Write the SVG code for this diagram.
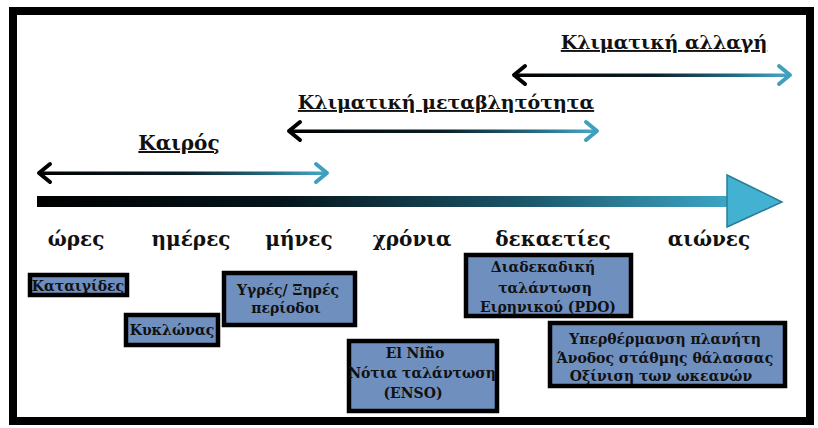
<svg xmlns="http://www.w3.org/2000/svg" width="818" height="428" viewBox="0 0 818 428">
<style>
.t{font-family:"DejaVu Serif","Liberation Serif",serif;font-weight:bold;fill:#111;}
.title{font-size:19px;text-decoration:underline;text-anchor:middle;}
.lab{font-size:20px;text-anchor:middle;}
.bx{fill:#6f8fbf;stroke:#000;stroke-width:4.5;}
.bt{font-size:14px;text-anchor:middle;}
.hl{fill:none;stroke:#000;stroke-width:4;stroke-linecap:round;stroke-linejoin:round;}
.hr{fill:none;stroke:#3f9fbe;stroke-width:4;stroke-linecap:round;stroke-linejoin:round;}
</style>
<defs>
<linearGradient id="gl" x1="0" y1="0" x2="1" y2="0">
<stop offset="0" stop-color="#000"/>
<stop offset="0.5" stop-color="#0a1f27"/>
<stop offset="0.8" stop-color="#236a80"/>
<stop offset="1" stop-color="#48a9c8"/>
</linearGradient>
<linearGradient id="gb" x1="0" y1="0" x2="1" y2="0">
<stop offset="0" stop-color="#000"/>
<stop offset="0.35" stop-color="#05141a"/>
<stop offset="0.7" stop-color="#1b5568"/>
<stop offset="1" stop-color="#3da6c6"/>
</linearGradient>
</defs>
<rect width="818" height="428" fill="#fff"/>
<rect id="frame" x="13" y="11" width="797" height="410" fill="none" stroke="#000" stroke-width="8"/>

<g id="connectors">
<g id="timeline">
<rect x="37" y="196" width="694" height="11" fill="url(#gb)"/>
<polygon points="727,175 782,202 727,227" fill="#43b1d1" stroke="#2b7d96" stroke-width="1.5"/>
</g>
<g id="arrow-kairos">
<rect x="40" y="171.5" width="286" height="3.5" fill="url(#gl)"/>
<polyline class="hl" points="50,164 39,173 50,182"/>
<polyline class="hr" points="316,164 327,173 316,182"/>
</g>
<g id="arrow-metavlitotita">
<rect x="290" y="129.5" width="306" height="3.5" fill="url(#gl)"/>
<polyline class="hl" points="300,122 289,131 300,140"/>
<polyline class="hr" points="586,122 597,131 586,140"/>
</g>
<g id="arrow-allagi">
<rect x="515" y="73.5" width="274" height="3.5" fill="url(#gl)"/>
<polyline class="hl" points="525,66 514,75 525,84"/>
<polyline class="hr" points="779,66 790,75 779,84"/>
</g>
</g>

<g id="title-kairos"><text class="t title" x="179" y="150" style="font-size:20px">Καιρός</text></g>
<g id="title-metavlitotita"><text class="t title" x="446" y="109">Κλιματική μεταβλητότητα</text></g>
<g id="title-allagi"><text class="t title" x="664" y="49">Κλιματική αλλαγή</text></g>

<g id="labels">
<text class="t lab" x="76" y="246">ώρες</text>
<text class="t lab" x="191" y="246">ημέρες</text>
<text class="t lab" x="299" y="246">μήνες</text>
<text class="t lab" x="412" y="246">χρόνια</text>
<text class="t lab" x="553" y="246">δεκαετίες</text>
<text class="t lab" x="709" y="246">αιώνες</text>
</g>

<g id="node-kataigides">
<rect class="bx" x="30" y="275" width="97" height="20"/>
<text class="t bt" x="78" y="291">Καταιγίδες</text>
</g>
<g id="node-kyklonas">
<rect class="bx" x="126" y="315" width="92" height="30"/>
<text class="t bt" x="172" y="335">Κυκλώνας</text>
</g>
<g id="node-ygres">
<rect class="bx" x="224" y="273" width="131" height="52"/>
<text class="t bt" x="288" y="295">Υγρές/ Ξηρές</text>
<text class="t bt" x="286" y="313">περίοδοι</text>
</g>
<g id="node-enso">
<rect class="bx" x="349" y="341" width="148" height="70"/>
<text class="t bt" x="415" y="358">El Niño</text>
<text class="t bt" x="422" y="378">Νότια ταλάντωση</text>
<text class="t bt" x="413" y="398">(ENSO)</text>
</g>
<g id="node-pdo">
<rect class="bx" x="466" y="255" width="165" height="61"/>
<text class="t bt" x="543" y="272">Διαδεκαδική</text>
<text class="t bt" x="545" y="293">ταλάντωση</text>
<text class="t bt" x="548" y="312">Ειρηνικού (PDO)</text>
</g>
<g id="node-climate">
<rect class="bx" x="550" y="323" width="235" height="63"/>
<text class="t bt" x="665" y="344">Υπερθέρμανση πλανήτη</text>
<text class="t bt" x="665" y="363">Άνοδος στάθμης θάλασσας</text>
<text class="t bt" x="661" y="381">Οξίνιση των ωκεανών</text>
</g>
</svg>
